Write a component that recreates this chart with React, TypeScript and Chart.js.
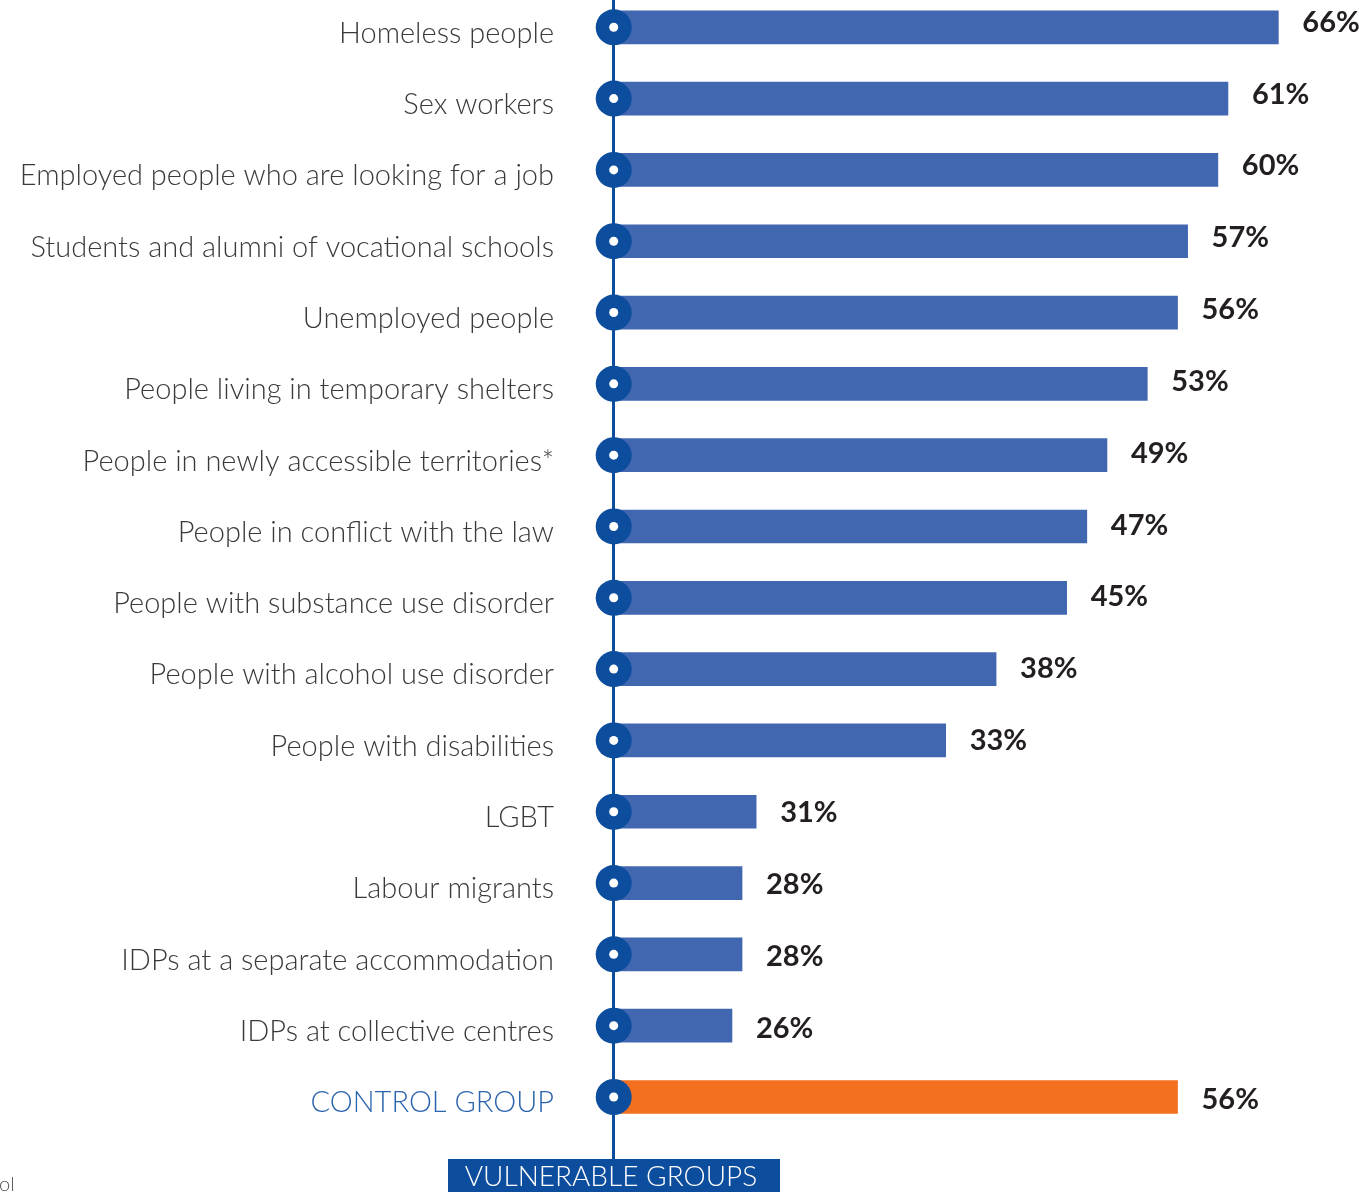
import { useEffect, useRef } from "react";
import { Chart, registerables } from "chart.js";

Chart.register(...registerables);

// Category labels (top to bottom)
const categories = [
  "Homeless people",
  "Sex workers",
  "Employed people who are looking for a job",
  "Students and alumni of vocational schools",
  "Unemployed people",
  "People living in temporary shelters",
  "People in newly accessible territories*",
  "People in conflict with the law",
  "People with substance use disorder",
  "People with alcohol use disorder",
  "People with disabilities",
  "LGBT",
  "Labour migrants",
  "IDPs at a separate accommodation",
  "IDPs at collective centres",
  "CONTROL GROUP",
];

// Percentages printed next to each bar
const valueLabels = [
  "66%", "61%", "60%", "57%", "56%", "53%", "49%", "47%",
  "45%", "38%", "33%", "31%", "28%", "28%", "26%", "56%",
];

// Bar lengths as drawn in the reference (the source artwork draws the
// last four vulnerable-group bars shorter than their printed values)
const barValues = [
  66, 61, 60, 57, 56, 53, 49, 47, 45, 38, 33, 14.2, 12.8, 12.8, 11.8, 56,
];

const axisTitle = "VULNERABLE GROUPS";
const cornerFragment = "ol";

const BAR_BLUE = "#4267b1";
const CONTROL_ORANGE = "#f37021";
const DARK_BLUE = "#0d4d9d";
const LABEL_GREY = "#3a3a3a";
const CONTROL_LABEL = "#2b64ae";
const VALUE_COLOR = "#231f20";

const decorPlugin = {
  id: "decor",
  beforeDatasetsDraw(chart: any) {
    const ctx = chart.ctx;
    const x0 = chart.scales.x.getPixelForValue(0);
    ctx.save();
    ctx.strokeStyle = DARK_BLUE;
    ctx.lineWidth = 3;
    ctx.beginPath();
    ctx.moveTo(x0 + 0.5, 0);
    ctx.lineTo(x0 + 0.5, 1160);
    ctx.stroke();
    ctx.restore();
  },
  afterDatasetsDraw(chart: any) {
    const ctx = chart.ctx;
    const x0 = chart.scales.x.getPixelForValue(0);
    const meta = chart.getDatasetMeta(0);
    const n = meta.data.length;
    ctx.save();
    meta.data.forEach((bar: any, i: number) => {
      // marker circle
      ctx.fillStyle = DARK_BLUE;
      ctx.beginPath();
      ctx.arc(x0 + 0.7, bar.y, 18, 0, Math.PI * 2);
      ctx.fill();
      ctx.fillStyle = "#ffffff";
      ctx.beginPath();
      ctx.arc(x0 + 0.7, bar.y, 4.5, 0, Math.PI * 2);
      ctx.fill();
      // value label
      ctx.fillStyle = VALUE_COLOR;
      ctx.font = "bold 29px Lato";
      ctx.textAlign = "left";
      ctx.textBaseline = "middle";
      const dy = -5 + (8 * i) / (n - 1);
      ctx.fillText(valueLabels[i], bar.x + 24, bar.y + dy);
    });
    // bottom axis title box
    ctx.fillStyle = DARK_BLUE;
    ctx.fillRect(448, 1159, 332, 33);
    ctx.fillStyle = "#ffffff";
    ctx.font = "300 28px Lato";
    ctx.textAlign = "center";
    ctx.textBaseline = "middle";
    ctx.fillText(axisTitle, 611, 1177);
    // fragment in bottom-left corner
    ctx.fillStyle = "#555555";
    ctx.font = "300 20px Lato";
    ctx.textAlign = "left";
    ctx.textBaseline = "alphabetic";
    ctx.fillText(cornerFragment, -1, 1191);
    ctx.restore();
  },
};

export default function App() {
  const canvasRef = useRef<HTMLCanvasElement | null>(null);

  useEffect(() => {
    if (!canvasRef.current) return;
    const lastIndex = categories.length - 1;
    const chart = new Chart(canvasRef.current, {
      type: "bar",
      data: {
        labels: categories,
        datasets: [
          {
            data: barValues,
            backgroundColor: barValues.map((_, i) =>
              i === lastIndex ? CONTROL_ORANGE : BAR_BLUE
            ),
            borderWidth: 0,
            barThickness: 33,
            clip: false as any,
          },
        ],
      },
      options: {
        indexAxis: "y",
        responsive: false,
        animation: false,
        devicePixelRatio: 1,
        events: [],
        layout: { padding: { top: 27.3, bottom: 95, left: 0, right: 0 } },
        plugins: { legend: { display: false }, tooltip: { enabled: false } },
        scales: {
          x: { display: false, min: 0, max: 74 },
          y: {
            type: "category",
            offset: false,
            grid: { display: false, drawTicks: false },
            border: { display: false },
            afterFit(scale: any) {
              scale.width = 613;
              scale.paddingTop = 0;
              scale.paddingBottom = 0;
            },
            ticks: {
              autoSkip: false,
              padding: 59,
              labelOffset: 6,
              font: { family: "Lato", size: 29, weight: 300 as any },
              color: (c: any) => (c.index === lastIndex ? CONTROL_LABEL : LABEL_GREY),
            },
          },
        },
      },
      plugins: [decorPlugin],
    });
    return () => chart.destroy();
  }, []);

  return (
    <div style={{ position: "absolute", left: 0, top: 0, width: 1359, height: 1192, background: "#fff" }}>
      <canvas ref={canvasRef} width={1359} height={1192} style={{ display: "block" }} />
    </div>
  );
}
